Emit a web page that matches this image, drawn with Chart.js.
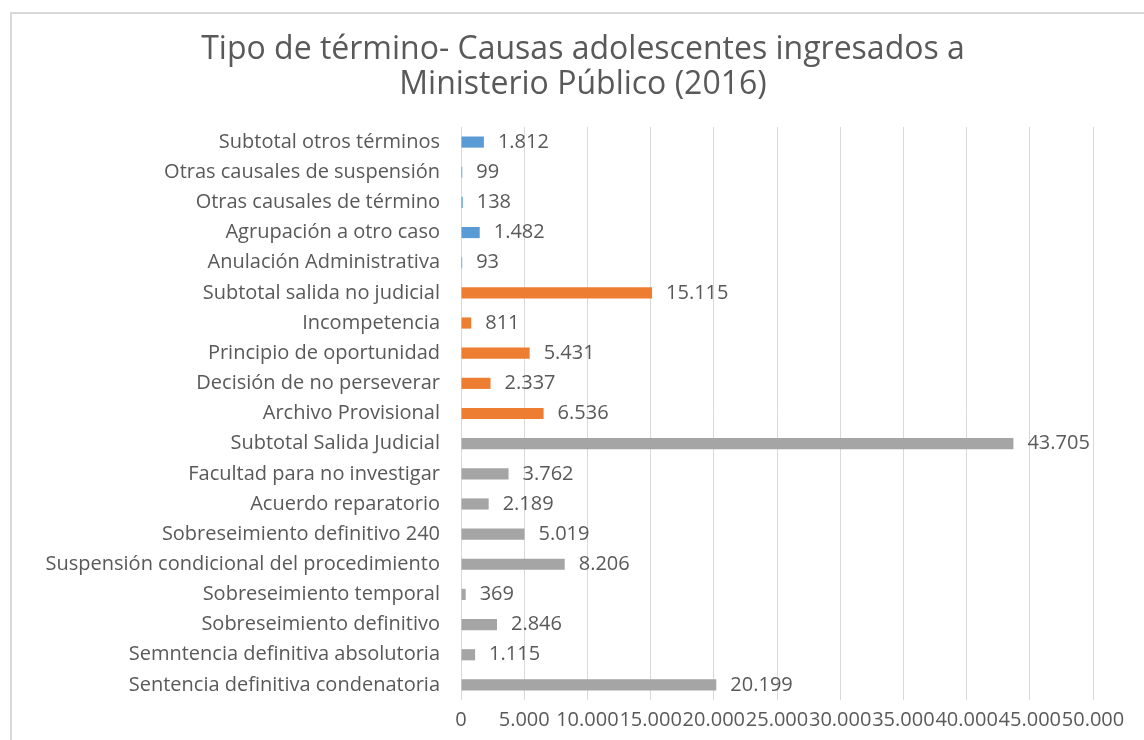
<!DOCTYPE html>
<html lang="es">
<head>
    <meta charset="UTF-8">
    <title>Tipo de término - Causas adolescentes</title>
    <script src="https://cdn.jsdelivr.net/npm/chart.js"></script>
    <style>
        body {
            margin: 0;
            background: #ffffff;
            width: 1144px;
            height: 740px;
            overflow: hidden;
            position: relative;
        }

        .frame {
            position: absolute;
            left: 10px;
            top: 12px;
            width: 1200px;
            height: 800px;
            border-top: 2px solid #d9d9d9;
            border-left: 2px solid #d9d9d9;
        }

        canvas {
            position: absolute;
            left: 0;
            top: 0;
        }
    </style>
</head>
<body>
    <div class="frame"></div>
    <canvas id="terminoChart" width="1144" height="740"></canvas>

    <script>
        // Categories, top to bottom as in the picture
        var categories = [
            'Subtotal otros términos',
            'Otras causales de suspensión',
            'Otras causales de término',
            'Agrupación a otro caso',
            'Anulación Administrativa',
            'Subtotal salida no judicial',
            'Incompetencia',
            'Principio de oportunidad',
            'Decisión de no perseverar',
            'Archivo Provisional',
            'Subtotal Salida Judicial',
            'Facultad para no investigar',
            'Acuerdo reparatorio',
            'Sobreseimiento definitivo 240',
            'Suspensión condicional del procedimiento',
            'Sobreseimiento temporal',
            'Sobreseimiento definitivo',
            'Semntencia definitiva absolutoria',
            'Sentencia definitiva condenatoria'
        ];

        var causas = [1812, 99, 138, 1482, 93, 15115, 811, 5431, 2337, 6536,
            43705, 3762, 2189, 5019, 8206, 369, 2846, 1115, 20199];

        // group of each bar: 0 = otros términos, 1 = salida no judicial, 2 = salida judicial
        var grupos = [0, 0, 0, 0, 0, 1, 1, 1, 1, 1, 2, 2, 2, 2, 2, 2, 2, 2, 2];

        var groupColors = ['#5b9bd5', '#ed7d31', '#a5a5a5'];

        var xTicks = [0, 5000, 10000, 15000, 20000, 25000, 30000, 35000, 40000, 45000, 50000];

        var titleLines = ['Tipo de término- Causas adolescentes ingresados a', 'Ministerio Público (2016)'];

        var textColor = '#595959';
        var fontName = '"Open Sans", "Liberation Sans", sans-serif';

        // 43705 -> "43.705"
        function formatNumber(v) {
            return String(v).replace(/\B(?=(\d{3})+(?!\d))/g, '.');
        }

        // Title drawn by hand so it can sit centred over the whole frame
        var titleText = {
            id: 'titleText',
            afterDraw: function(chart) {
                var ctx = chart.ctx;
                ctx.save();
                ctx.font = '32px ' + fontName;
                ctx.fillStyle = textColor;
                ctx.textAlign = 'center';
                ctx.textBaseline = 'middle';
                ctx.fillText(titleLines[0], 583, 50);
                ctx.fillText(titleLines[1], 583, 85);
                ctx.restore();
            }
        };

        // Draw the value to the right of every bar
        var valueLabels = {
            id: 'valueLabels',
            afterDatasetsDraw: function(chart) {
                var ctx = chart.ctx;
                var meta = chart.getDatasetMeta(0);
                ctx.save();
                ctx.font = '20px ' + fontName;
                ctx.fillStyle = textColor;
                ctx.textAlign = 'left';
                ctx.textBaseline = 'middle';
                meta.data.forEach(function(bar, i) {
                    ctx.fillText(formatNumber(causas[i]), bar.x + 14, bar.y);
                });
                ctx.restore();
            }
        };

        var ctx = document.getElementById('terminoChart').getContext('2d');
        var terminoChart = new Chart(ctx, {
            type: 'bar',
            data: {
                labels: categories,
                datasets: [{
                    label: 'Causas',
                    data: causas,
                    backgroundColor: grupos.map(function(g) { return groupColors[g]; }),
                    borderWidth: 0,
                    categoryPercentage: 1,
                    barPercentage: 0.37
                }]
            },
            options: {
                indexAxis: 'y',
                responsive: false,
                animation: false,
                layout: {
                    padding: { top: 127, left: 15, right: 51, bottom: 8 }
                },
                plugins: {
                    legend: { display: false },
                    tooltip: { enabled: false },
                    title: { display: false }
                },
                scales: {
                    x: {
                        min: 0,
                        max: 50000,
                        afterBuildTicks: function(scale) {
                            scale.ticks = xTicks.map(function(v) { return { value: v }; });
                        },
                        afterFit: function(scale) { scale.height = 32; },
                        grid: { color: '#d9d9d9', lineWidth: 1, drawTicks: false },
                        border: { display: false },
                        ticks: {
                            color: textColor,
                            font: { family: fontName, size: 20 },
                            autoSkip: false,
                            maxRotation: 0,
                            minRotation: 0,
                            padding: 8,
                            callback: function(v) { return formatNumber(v); }
                        }
                    },
                    y: {
                        afterFit: function(scale) { scale.width = 446; },
                        grid: { display: false, drawTicks: false },
                        border: { display: false },
                        ticks: {
                            color: textColor,
                            font: { family: fontName, size: 20 },
                            padding: 21,
                            autoSkip: false
                        }
                    }
                }
            },
            plugins: [valueLabels, titleText]
        });
    </script>
</body>
</html>
